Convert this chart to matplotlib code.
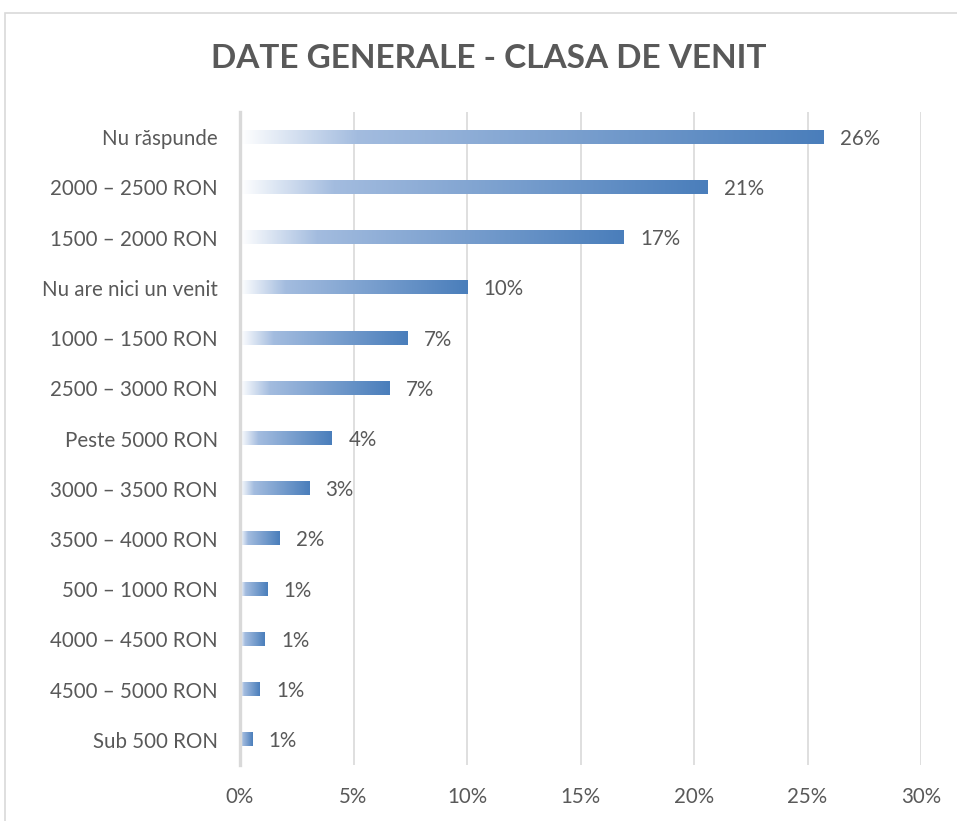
import numpy as np
import matplotlib
matplotlib.use("Agg")
import matplotlib.pyplot as plt
from matplotlib.colors import LinearSegmentedColormap
from matplotlib.patches import Rectangle

plt.rcParams['font.family'] = ['Lato', 'DejaVu Sans']

# Data (share of respondents, top to bottom)
categories = [
    "Nu răspunde", "2000 – 2500 RON", "1500 – 2000 RON", "Nu are nici un venit",
    "1000 – 1500 RON", "2500 – 3000 RON", "Peste 5000 RON", "3000 – 3500 RON",
    "3500 – 4000 RON", "500 – 1000 RON", "4000 – 4500 RON", "4500 – 5000 RON",
    "Sub 500 RON",
]
values = [0.257, 0.206, 0.169, 0.100, 0.074, 0.066, 0.0405, 0.0304,
          0.0176, 0.0119, 0.0110, 0.0088, 0.0053]
x_ticks = [0, 0.05, 0.10, 0.15, 0.20, 0.25, 0.30]

text_col = "#595959"
grid_col = "#d9d9d9"
cmap = LinearSegmentedColormap.from_list(
    "bar_grad", [(0, "#ffffff"), (0.2, "#a3bcdf"), (1, "#4a7ebb")])

fig = plt.figure(figsize=(9.57, 8.21), dpi=100)
ax = fig.add_axes([240 / 957, 1 - 765 / 821, (921 - 240) / 957, (765 - 112) / 821])

y = np.arange(len(categories))
bars = ax.barh(y, values, height=0.26, color="none", zorder=3)

# gradient fill for every bar
grad = np.linspace(0, 1, 256).reshape(1, -1)
for b, v in zip(bars, values):
    x0, y0 = b.get_x(), b.get_y()
    ax.imshow(grad, cmap=cmap, aspect="auto", zorder=3,
              extent=[x0, x0 + b.get_width(), y0 + b.get_height(), y0],
              interpolation="bilinear")
    ax.text(v + 0.0072, b.get_y() + b.get_height() / 2 + 0.03, f"{v:.0%}",
            va="center", ha="left", fontsize=14.8, color=text_col, zorder=4)

ax.set_xlim(0, 0.30)
ax.set_ylim(len(categories) - 0.5, -0.5)
ax.set_xticks(x_ticks)
ax.set_xticklabels([f"{t:.0%}" for t in x_ticks])
ax.set_yticks(y)
ax.set_yticklabels(categories)
ax.tick_params(axis="both", length=0, labelsize=14.8, colors=text_col)
ax.tick_params(axis="y", pad=16)
ax.tick_params(axis="x", pad=16)

ax.grid(axis="x", color=grid_col, linewidth=1.2, zorder=0)
ax.set_axisbelow(True)
for s in ["top", "right", "bottom"]:
    ax.spines[s].set_visible(False)
ax.spines["left"].set_color(grid_col)
ax.spines["left"].set_linewidth(2.4)
ax.spines["left"].set_zorder(5)

fig.text(0.511, 1 - 58 / 821, "DATE GENERALE - CLASA DE VENIT",
         ha="center", va="center", fontsize=24, fontweight="bold", color=text_col)

# chart area border
fig.patches.append(Rectangle((5 / 957, -0.1), 1.2, 1.1 - 13 / 821, transform=fig.transFigure,
                             fill=False, edgecolor=grid_col, linewidth=1.2))

fig.savefig("out.png", dpi=100)
